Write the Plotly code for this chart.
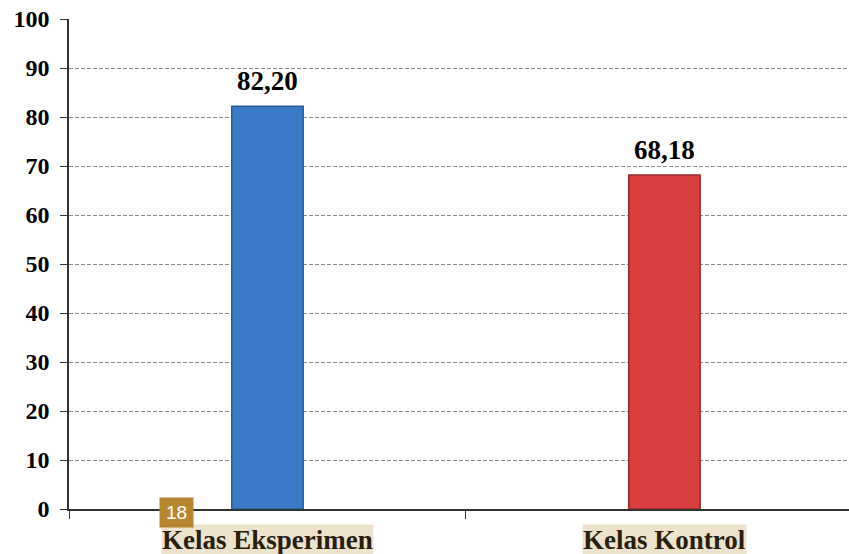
import plotly.graph_objects as go

categories = ["Kelas Eksperimen", "Kelas Kontrol"]
values = [82.20, 68.18]
bar_colors = ["#3A7AC9", "#D93E3E"]
bar_edges = ["#2A5C9C", "#A02C2C"]
y_ticks = list(range(0, 101, 10))

labels = [f"{v:.2f}".replace(".", ",") for v in values]

fig = go.Figure()
fig.add_trace(go.Bar(
    x=categories, y=values,
    width=0.18,
    marker=dict(color=bar_colors, line=dict(color=bar_edges, width=1.5)),
    cliponaxis=False,
))

for cat, v, lab in zip(categories, values, labels):
    fig.add_annotation(
        x=cat, xref="x", y=v, yref="y", yanchor="bottom", yshift=8,
        text=lab, showarrow=False,
        font=dict(family="Liberation Serif", size=27, color="black", weight="bold"),
    )
    fig.add_annotation(
        x=cat, xref="x", y=0, yref="paper", yanchor="middle", yshift=-31,
        text=cat, showarrow=False,
        font=dict(family="Liberation Serif", size=27, color="#2A1E0E", weight="bold"),
        bgcolor="#EDE2CC", borderpad=0,
    )

fig.add_annotation(
    x=0, xref="x", xshift=-91, y=0, yref="paper", yanchor="middle", yshift=-3,
    text="18", showarrow=False,
    font=dict(family="Liberation Sans", size=19, color="white"),
    bgcolor="#B8862E", borderpad=4, width=25,
)

fig.update_layout(
    width=849, height=554,
    margin=dict(l=69, r=0, t=19, b=45),
    plot_bgcolor="white", paper_bgcolor="white",
    showlegend=False,
)
fig.update_xaxes(
    type="category", range=[-0.5, 1.465],
    showline=True, linecolor="#333333", linewidth=1.5,
    ticks="outside", tickson="boundaries", ticklen=8, tickcolor="#333333",
    showticklabels=False, showgrid=False, zeroline=False,
)
fig.update_yaxes(
    range=[0, 100], tickvals=y_ticks,
    showline=True, linecolor="#333333", linewidth=1.5,
    ticks="outside", ticklen=7, tickcolor="#333333",
    tickfont=dict(family="Liberation Serif", size=24, color="black", weight="bold"),
    ticklabelstandoff=6,
    showgrid=True, gridcolor="#8C8C8C", griddash="4px,2px", gridwidth=1,
    zeroline=False,
)

fig.write_html("out.html")
